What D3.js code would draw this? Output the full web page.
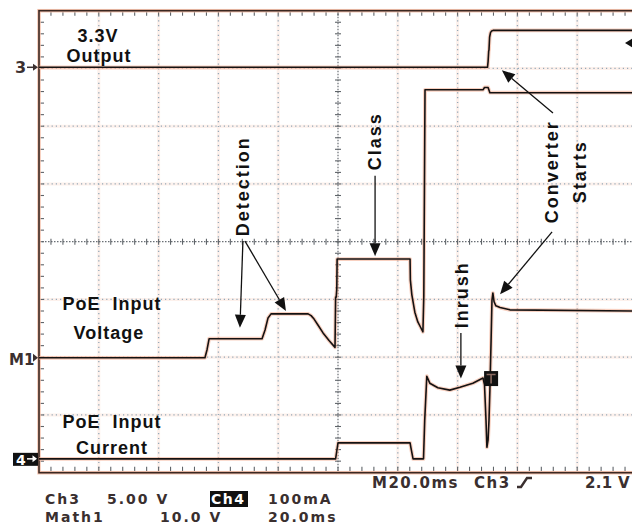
<!DOCTYPE html>
<html><head><meta charset="utf-8">
<script src="https://cdn.jsdelivr.net/npm/d3@7"></script>
<style>html,body{margin:0;padding:0;background:#fff;} svg{display:block;}</style>
</head><body>
<svg id="c" width="632" height="525"></svg>
<script>
// ---- graticule: 10 horizontal divisions of 20 ms, 8 vertical divisions ----
const timeDivs = [0,20,40,60,80,100,120,140,160,180,200];
const vertDivs = [-4,-3,-2,-1,0,1,2,3,4];

// ---- Ch3 : 3.3 V output (5 V/div) ----
const ch3Time  = [0, 150.0, 150.2, 150.4, 150.5, 150.7, 151.0, 151.4, 152.0, 200];
const ch3Volts = [0, 0,     0.5,   1.4,   1.5,   2.6,   3.0,   3.15,  3.2,   3.2];

// ---- Math1 : PoE input voltage (10 V/div) ----
const m1Time  = [0, 55.5, 56.2, 56.9, 74.6, 75.6, 76.6, 77.6, 90.0, 91.0, 92.0, 93.4, 95.0, 97.0, 99.0,
                 99.2, 99.4, 99.6, 99.7, 124.1, 124.2, 124.7, 125.7, 126.7, 127.7, 128.4, 128.7, 129.1,
                 148.5, 149.0, 150.2, 150.8, 200];
const m1Volts = [0, 0,    1.4,  3.3,  3.3,  4.8,  6.9,  7.6,  7.6,  7.3,  6.7,  5.6,  4.3,  3.0,  1.8,
                 10.5, 10.5, 12.0, 17.1, 17.1, 13.5, 10.9, 7.9, 6.2, 5.2, 4.5, 10.7, 46.4,
                 46.4, 46.8, 46.8, 45.9, 45.9];

// ---- Ch4 : PoE input current (100 mA/div) ----
const ch4Time = [0, 99.2, 99.6, 100.0, 124.1, 124.4, 125.1, 128.6, 129.0, 129.7, 130.7, 133.4, 137.4,
                 140.8, 145.1, 148.5, 149.0, 149.5, 149.8, 150.2, 150.5, 150.8, 151.2, 151.5, 151.8,
                 152.2, 152.8, 154.2, 157.5, 200];
const ch4mA   = [0, 0,    14,   27.7,  27.7,  19,    0,     0,     67,    143,   131,   123,   119,
                 124,   131,   140,   128,   67,    20,    33,    67,    119,   205,   275,   287,
                 272,   265,   262,   258,   256];

// ---- scope readout texts ----
const readoutRow1 = ["Ch3", "5.00 V", "Ch4", "100mA"];
const readoutRow2 = ["Math1", "10.0 V", "20.0ms"];
const statusRow   = ["M20.0ms", "Ch3", "2.1 V"];

const svg = d3.select('#c');
const x = d3.scaleLinear().domain([0, 200]).range([39, 637]);
const yDiv = d3.scaleLinear().domain([-4, 4]).range([472.7, 10.7]);

// channel position (div) and sensitivity (units/div)
const ch3 = {pos: 3.02, perDiv: 5};
const m1  = {pos: -2.01, perDiv: 10};
const ch4 = {pos: -3.76, perDiv: 100};
const yOf = (ch) => (v) => yDiv(ch.pos + v / ch.perDiv);

// ---------------- graticule ----------------
const grid = svg.append('g');
const inner = timeDivs.filter(t => t > 0 && t < 200 && t !== 100);
const innerV = vertDivs.filter(d => d > -4 && d < 4 && d !== 0);
grid.selectAll('.hv').data(inner).join('line')
  .attr('x1', d => x(d)).attr('x2', d => x(d)).attr('y1', yDiv(4)).attr('y2', yDiv(-4))
  .attr('stroke', '#fdf1ec').attr('stroke-width', 3);
grid.selectAll('.hh').data(innerV).join('line')
  .attr('y1', d => yDiv(d)).attr('y2', d => yDiv(d)).attr('x1', x(0)).attr('x2', x(200))
  .attr('stroke', '#fdf1ec').attr('stroke-width', 3);
grid.selectAll('.gv').data(inner).join('line')
  .attr('x1', d => x(d)).attr('x2', d => x(d)).attr('y1', yDiv(4)).attr('y2', yDiv(-4))
  .attr('stroke', '#93a8b8').attr('stroke-width', 1.3).attr('stroke-dasharray', '1.2,3.6');
grid.selectAll('.gh').data(innerV).join('line')
  .attr('y1', d => yDiv(d)).attr('y2', d => yDiv(d)).attr('x1', x(0)).attr('x2', x(200))
  .attr('stroke', '#93a8b8').attr('stroke-width', 1.3).attr('stroke-dasharray', '1.2,3');

// centre cross with minor ticks
grid.append('line').attr('x1', x(0)).attr('x2', x(200)).attr('y1', yDiv(0)).attr('y2', yDiv(0))
  .attr('stroke', '#6a6f75').attr('stroke-width', 1.2).attr('stroke-dasharray', '1.5,1.5');
grid.append('line').attr('x1', x(100)).attr('x2', x(100)).attr('y1', yDiv(4)).attr('y2', yDiv(-4))
  .attr('stroke', '#6a6f75').attr('stroke-width', 1.2).attr('stroke-dasharray', '1.5,1.5');
const minorT = d3.range(0, 200.01, 4);
const minorD = d3.range(-4, 4.001, 0.2);
grid.selectAll('.mt').data(minorT).join('line')
  .attr('x1', d => x(d)).attr('x2', d => x(d)).attr('y1', yDiv(0) - 3).attr('y2', yDiv(0) + 3)
  .attr('stroke', '#5f6469').attr('stroke-width', 1.1);
grid.selectAll('.md').data(minorD).join('line')
  .attr('y1', d => yDiv(d)).attr('y2', d => yDiv(d)).attr('x1', x(100) - 3).attr('x2', x(100) + 3)
  .attr('stroke', '#5f6469').attr('stroke-width', 1.1);
// edge ticks
grid.selectAll('.et').data(minorT).join('line')
  .attr('x1', d => x(d)).attr('x2', d => x(d)).attr('y1', yDiv(4)).attr('y2', yDiv(4) + 5)
  .attr('stroke', '#5f6469').attr('stroke-width', 1.1);
grid.selectAll('.eb').data(minorT).join('line')
  .attr('x1', d => x(d)).attr('x2', d => x(d)).attr('y1', yDiv(-4)).attr('y2', yDiv(-4) - 6)
  .attr('stroke', '#5f6469').attr('stroke-width', 1.1);
grid.selectAll('.el').data(minorD).join('line')
  .attr('y1', d => yDiv(d)).attr('y2', d => yDiv(d)).attr('x1', x(0)).attr('x2', x(0) + 5)
  .attr('stroke', '#5f6469').attr('stroke-width', 1.1);

// frame
grid.append('rect').attr('x', x(0)).attr('y', yDiv(4)).attr('width', x(200) - x(0)).attr('height', yDiv(-4) - yDiv(4))
  .attr('fill', 'none').attr('stroke', '#f6c3ae').attr('stroke-width', 3.5);
grid.append('rect').attr('x', x(0)).attr('y', yDiv(4)).attr('width', x(200) - x(0)).attr('height', yDiv(-4) - yDiv(4))
  .attr('fill', 'none').attr('stroke', '#3a2822').attr('stroke-width', 1.6);

// ---------------- traces ----------------
function trace(times, vals, ch) {
  const yy = yOf(ch);
  const pts = times.map((t, i) => [t, vals[i]]);
  const line = d3.line().x(d => x(d[0])).y(d => yy(d[1]));
  svg.append('path').datum(pts).attr('d', line).attr('fill', 'none')
    .attr('stroke', '#f4b096').attr('stroke-opacity', 0.6).attr('stroke-width', 3.8).attr('stroke-linejoin', 'round');
  svg.append('path').datum(pts).attr('d', line).attr('fill', 'none')
    .attr('stroke', '#141212').attr('stroke-width', 1.6).attr('stroke-linejoin', 'round');
}
trace(ch3Time, ch3Volts, ch3);
trace(m1Time, m1Volts, m1);
trace(ch4Time, ch4mA, ch4);

// ---------------- trigger marker ----------------
const trigT = 151.2, trigD = -2.37;
svg.append('rect').attr('x', x(trigT) - 7).attr('y', yDiv(trigD) - 7.5).attr('width', 14).attr('height', 15)
  .attr('fill', '#111');
svg.append('path').attr('d', `M${x(trigT)-4.5},${yDiv(trigD)-4}H${x(trigT)+4.5}M${x(trigT)},${yDiv(trigD)-4}V${yDiv(trigD)+5}`)
  .attr('stroke', '#8a6a60').attr('stroke-width', 1.6);

// ---------------- channel markers ----------------
const mk = svg.append('g').attr('font-family', 'DejaVu Sans, sans-serif').attr('font-weight', 'bold').attr('fill', '#3b3030');
mk.append('text').attr('x', 15).attr('y', yOf(ch3)(0) + 6).attr('font-size', 16).text('3');
mk.append('path').attr('d', `M27,${yOf(ch3)(0)}H35`).attr('stroke', '#3b3030').attr('stroke-width', 1.5);
mk.append('path').attr('d', `M38,${yOf(ch3)(0)}l-5,-3.5v7z`).attr('fill', '#3b3030');
mk.append('text').attr('x', 9).attr('y', yOf(m1)(0) + 7).attr('font-size', 15).text('M1');
mk.append('path').attr('d', `M38,${yOf(m1)(0)}l-5,-4v8z`).attr('fill', '#3b3030');
mk.append('rect').attr('x', 13).attr('y', yOf(ch4)(0) - 6).attr('width', 25).attr('height', 13).attr('fill', '#111');
mk.append('text').attr('x', 16).attr('y', yOf(ch4)(0) + 6).attr('font-size', 14).attr('fill', '#fff').text('4');
mk.append('path').attr('d', `M27,${yOf(ch4)(0)}H34`).attr('stroke', '#fff').attr('stroke-width', 1.5);
mk.append('path').attr('d', `M37,${yOf(ch4)(0)}l-4.5,-3.5v7z`).attr('fill', '#fff');
// trigger level marker (right edge)
svg.append('path').attr('d', `M625,${yOf(ch3)(2.1)}l9,-5.5v11z`).attr('fill', '#111');

// ---------------- annotations ----------------
const ann = svg.append('g').attr('font-family', 'Liberation Sans, Arial, sans-serif').attr('font-weight', 'bold')
  .attr('font-size', 18).attr('fill', '#111');
function label(t, d, txt, ls) {
  ann.append('text').attr('x', x(t)).attr('y', yDiv(d)).attr('text-anchor', 'middle')
    .attr('letter-spacing', ls).style('white-space', 'pre').text(txt);
}
label(19.7, 3.46, '3.3V', 1);
label(20.1, 3.12, 'Output', 1);
label(24.4, -1.18, 'PoE  Input', 1);
label(23.4, -1.68, 'Voltage', 1);
label(24.4, -3.22, 'PoE  Input', 1);
label(24.4, -3.67, 'Current', 1);
function vlabel(t, d, txt) {
  ann.append('text').attr('transform', `translate(${x(t)},${yDiv(d)}) rotate(-90)`)
    .attr('text-anchor', 'middle').attr('dominant-baseline', 'central').attr('letter-spacing', 2).text(txt);
}
vlabel(68.1, 0.96, 'Detection');
vlabel(112.4, 1.74, 'Class');
vlabel(171.6, 1.21, 'Converter');
vlabel(180.9, 1.21, 'Starts');
vlabel(141.5, -0.92, 'Inrush');
function arrow(t1, d1, t2, d2) {
  const x1 = x(t1), y1 = yDiv(d1), x2 = x(t2), y2 = yDiv(d2);
  const a = Math.atan2(y2 - y1, x2 - x1), L = 13, W = 5.5;
  const bx = x2 - L * Math.cos(a), by = y2 - L * Math.sin(a);
  ann.append('line').attr('x1', x1).attr('y1', y1).attr('x2', bx).attr('y2', by)
    .attr('stroke', '#111').attr('stroke-width', 1.3);
  ann.append('path').attr('d', `M${x2},${y2}L${bx + W * Math.sin(a)},${by - W * Math.cos(a)}L${bx - W * Math.sin(a)},${by + W * Math.cos(a)}Z`)
    .attr('fill', '#111');
}
arrow(68.2, 0.01, 67.2, -1.49);
arrow(68.9, 0.01, 82.6, -1.20);
arrow(112.4, 1.14, 112.4, -0.25);
arrow(171.9, 2.23, 154.8, 2.97);
arrow(171.6, 0.17, 154.2, -0.91);
arrow(141.1, -1.58, 141.1, -2.37);

// ---------------- readout ----------------
const ro = svg.append('g').attr('font-family', 'DejaVu Sans, sans-serif').attr('font-weight', 'bold')
  .attr('font-size', 14).attr('fill', '#3a2f2f').attr('letter-spacing', 2);
ro.append('text').attr('x', 45).attr('y', 504).text(readoutRow1[0]);
ro.append('text').attr('x', 107).attr('y', 504).text(readoutRow1[1]);
ro.append('rect').attr('x', 210).attr('y', 491).attr('width', 38).attr('height', 16).attr('fill', '#111');
ro.append('text').attr('x', 211).attr('y', 504).attr('fill', '#fff').attr('letter-spacing', 1.5).text(readoutRow1[2]);
ro.append('text').attr('x', 268).attr('y', 504).text(readoutRow1[3]);
ro.append('text').attr('x', 45).attr('y', 521.5).text(readoutRow2[0]);
ro.append('text').attr('x', 160).attr('y', 521.5).text(readoutRow2[1]);
ro.append('text').attr('x', 268).attr('y', 521.5).text(readoutRow2[2]);
const st = svg.append('g').attr('font-family', 'DejaVu Sans, sans-serif').attr('font-weight', 'bold')
  .attr('font-size', 15).attr('fill', '#3a2f2f').attr('letter-spacing', 1.5);
st.append('text').attr('x', 372).attr('y', 488).text(statusRow[0]);
st.append('text').attr('x', 474).attr('y', 488).text(statusRow[1]);
st.append('path').attr('d', 'M517,487H521L527,478H532').attr('fill', 'none').attr('stroke', '#3a2f2f').attr('stroke-width', 2.4);
st.append('text').attr('x', 585).attr('y', 488).attr('letter-spacing', 0.3).text(statusRow[2]);
</script>
</body></html>
